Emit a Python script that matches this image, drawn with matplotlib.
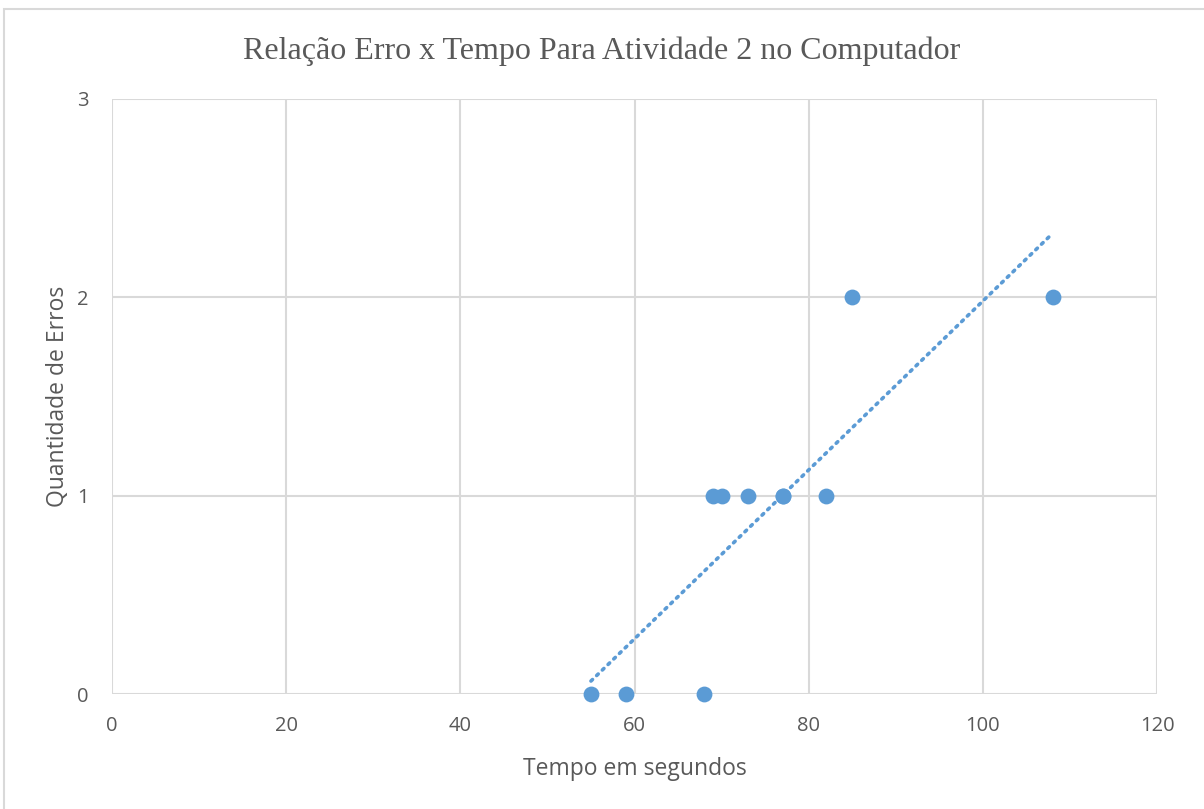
import matplotlib
matplotlib.use("Agg")
import matplotlib.pyplot as plt
import numpy as np
from matplotlib.patches import Rectangle

tempo = [55, 59, 68, 69, 70, 73, 77, 77, 82, 85, 108]
erros = [0, 0, 0, 1, 1, 1, 1, 1, 1, 2, 2]
x_ticks = [0, 20, 40, 60, 80, 100, 120]
y_ticks = [0, 1, 2, 3]

title = "Relação Erro x Tempo Para Atividade 2 no Computador"
xlabel = "Tempo em segundos"
ylabel = "Quantidade de Erros"

blue = "#5B9BD5"
grid = "#D9D9D9"
txt = "#595959"

fig = plt.figure(figsize=(12.04, 8.09), dpi=100)
fig.patches.append(Rectangle((4/1204, -0.01), 1.2, 1 - 9/809 + 0.01, transform=fig.transFigure,
                             fill=False, edgecolor="#D9D9D9", linewidth=1.5))
ax = fig.add_axes([112/1204, 1 - 694/809, (1157 - 112)/1204, (694 - 99)/809])

ax.set_xlim(0, 120)
ax.set_ylim(0, 3)
ax.set_xticks(x_ticks)
ax.set_yticks(y_ticks)
ax.grid(True, color=grid, linewidth=1.5)
ax.set_axisbelow(True)
for s in ax.spines.values():
    s.set_visible(False)
ax.tick_params(length=0, labelsize=14.5, labelcolor=txt)
ax.tick_params(axis="x", pad=16)
ax.tick_params(axis="y", pad=17)
for lbl in ax.get_xticklabels() + ax.get_yticklabels():
    lbl.set_family("Open Sans")

# trendline (linear fit)
x = np.array(tempo, dtype=float)
y = np.array(erros, dtype=float)
m, b = np.polyfit(x, y, 1)
xs = np.array([min(tempo), max(tempo)])
ax.plot(xs, m * xs + b, color=blue, linestyle=(0, (0.6, 1.6)), linewidth=2.6,
        dash_capstyle="round", zorder=2)

ax.scatter(tempo, erros, s=130, color=blue, zorder=3, clip_on=False, linewidths=0)

ax.set_xlabel(xlabel, fontsize=16.5, color=txt, family="Open Sans", labelpad=15)
ax.set_ylabel(ylabel, fontsize=16.5, color=txt, family="Open Sans", labelpad=5)

fig.text(0.5, 1 - 51/809, title, ha="center", va="center", fontsize=23,
         family="Liberation Serif", color=txt)

fig.savefig("out.png", dpi=100)
